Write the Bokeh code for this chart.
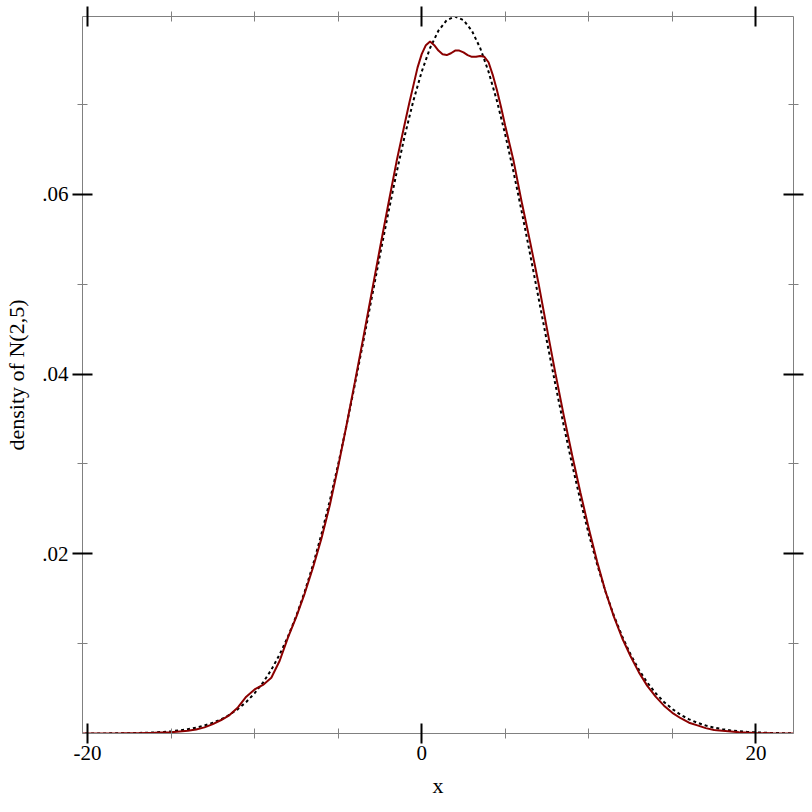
from bokeh.plotting import figure
from bokeh.models import LinearAxis, FixedTicker, Range1d
from bokeh.embed import file_html
from bokeh.resources import INLINE

# Reference density N(2,5) (dashed)
normal_x = [-20.5, -20, -19.5, -19, -18.5, -18, -17.5, -17, -16.5, -16, -15.5, -15,
            -14.5, -14, -13.5, -13, -12.5, -12, -11.5, -11, -10.5, -10, -9.5, -9,
            -8.5, -8, -7.5, -7, -6.5, -6, -5.5, -5, -4.5, -4, -3.5, -3, -2.5, -2,
            -1.5, -1, -0.5, 0, 0.5, 1, 1.5, 2, 2.5, 3, 3.5, 4, 4.5, 5, 5.5, 6,
            6.5, 7, 7.5, 8, 8.5, 9, 9.5, 10, 10.5, 11, 11.5, 12, 12.5, 13, 13.5, 14,
            14.5, 15, 15.5, 16, 16.5, 17, 17.5, 18, 18.5, 19, 19.5, 20, 20.5, 21,
            21.5, 22, 22.5]
normal_y = [0.0000032, 0.0000050, 0.0000077, 0.0000118, 0.0000179, 0.0000267, 0.0000397,
            0.0000583, 0.0000850, 0.000122, 0.000175, 0.000247, 0.000344, 0.000477,
            0.000653, 0.000887, 0.00119, 0.00158, 0.00208, 0.00272, 0.00351, 0.00448,
            0.00567, 0.00709, 0.00880, 0.01080, 0.01312, 0.01579, 0.01881, 0.02218,
            0.02590, 0.02995, 0.03427, 0.03884, 0.04357, 0.04839, 0.05322, 0.05794,
            0.06245, 0.06664, 0.07041, 0.07365, 0.07628, 0.07821, 0.07939, 0.07979,
            0.07939, 0.07821, 0.07628, 0.07365, 0.07041, 0.06664, 0.06245, 0.05794,
            0.05322, 0.04839, 0.04357, 0.03884, 0.03427, 0.02995, 0.02590, 0.02218,
            0.01881, 0.01579, 0.01312, 0.01080, 0.00880, 0.00709, 0.00567, 0.00448,
            0.00351, 0.00272, 0.00208, 0.00158, 0.00119, 0.000887, 0.000653, 0.000477,
            0.000344, 0.000247, 0.000175, 0.000122, 0.000085, 0.000058, 0.000040,
            0.000027, 0.000018]

# Kernel density estimate (red)
kde_x = [-20.5, -19, -18, -17, -16, -15, -14, -13.5, -13, -12.5, -12, -11.5, -11,
         -10.5, -10, -9.5, -9, -8.5, -8, -7.5, -7, -6.5, -6, -5.5, -5, -4.5, -4,
         -3.5, -3, -2.5, -2, -1.5, -1, -0.75, -0.5, -0.25, 0, 0.25, 0.5, 0.75, 1,
         1.25, 1.5, 1.75, 2, 2.25, 2.5, 2.75, 3, 3.25, 3.5, 3.75, 4, 4.25, 4.5,
         4.75, 5, 5.5, 6, 6.5, 7, 7.5, 8, 8.5, 9, 9.5, 10, 10.5, 11, 11.5, 12,
         12.5, 13, 13.5, 14, 14.5, 15, 15.5, 16, 16.5, 17, 17.5, 18, 19, 20, 21, 22.5]
kde_y = [0.0, 0.00001, 0.00002, 0.00004, 0.00007, 0.00014, 0.00030, 0.00045, 0.00068,
         0.00105, 0.00150, 0.00205, 0.00290, 0.00410, 0.00490, 0.00540, 0.00620,
         0.00810, 0.01070, 0.01300, 0.01560, 0.01850, 0.02170, 0.02540, 0.02970,
         0.03430, 0.03910, 0.04400, 0.04900, 0.05400, 0.05890, 0.06370, 0.06800,
         0.07010, 0.07210, 0.07410, 0.07560, 0.07660, 0.07700, 0.07660, 0.07600,
         0.07560, 0.07550, 0.07570, 0.07600, 0.07600, 0.07580, 0.07550, 0.07530,
         0.07530, 0.07540, 0.07530, 0.07470, 0.07330, 0.07160, 0.06970, 0.06760,
         0.06370, 0.05900, 0.05460, 0.05000, 0.04500, 0.04010, 0.03540, 0.03100,
         0.02680, 0.02280, 0.01910, 0.01580, 0.01300, 0.01060, 0.00860, 0.00680,
         0.00530, 0.00410, 0.00310, 0.00230, 0.00170, 0.00120, 0.00090, 0.00060,
         0.00040, 0.00030, 0.00015, 0.00006, 0.00002, 0.00001]

x_major = [-20, 0, 20]
x_minor = [-15, -10, -5, 5, 10, 15]
x_labels = {-20: "-20", 0: "0", 20: "20"}
y_major = [0.02, 0.04, 0.06]
y_minor = [0.01, 0.03, 0.05, 0.07]
y_labels = {0.02: ".02", 0.04: ".04", 0.06: ".06"}

X_LO, X_HI = -20.3, 22.25
Y_LO, Y_HI = 0.0, 0.07979

FONT = "Liberation Serif"
FRAME = "#808080"

p = figure(width=804, height=804, output_backend="svg", toolbar_location=None,
           x_range=Range1d(X_LO, X_HI), y_range=Range1d(Y_LO, Y_HI),
           x_axis_location=None, y_axis_location=None,
           min_border_left=82, min_border_right=11, min_border_top=16,
           min_border_bottom=71)
p.grid.visible = False
p.outline_line_color = None
p.background_fill_color = "white"
p.border_fill_color = "white"


def style(ax, ticks, minor, labels=True):
    ax.ticker = FixedTicker(ticks=ticks, minor_ticks=minor)
    ax.axis_line_color = FRAME
    ax.axis_line_width = 1
    ax.major_tick_line_color = "black"
    ax.major_tick_line_width = 2
    ax.major_tick_in = 10
    ax.major_tick_out = 10
    ax.minor_tick_line_color = FRAME
    ax.minor_tick_line_width = 1
    ax.minor_tick_in = 5
    ax.minor_tick_out = 5
    ax.major_label_text_font = FONT
    ax.major_label_text_font_size = "21px"
    ax.major_label_text_color = "black"
    ax.axis_label_text_font = FONT
    ax.axis_label_text_font_size = "22px"
    ax.axis_label_text_font_style = "normal"
    ax.axis_label_text_color = "black"
    if not labels:
        ax.major_label_text_font_size = "0px"
        ax.major_label_standoff = 0
        ax.major_label_overrides = {t: "" for t in ticks}


bottom = LinearAxis(axis_label="x")
style(bottom, x_major, x_minor)
bottom.major_label_overrides = x_labels
bottom.major_label_standoff = 2
bottom.axis_label_standoff = 10
p.add_layout(bottom, "below")

left = LinearAxis(axis_label="density of N(2,5)")
style(left, y_major, y_minor)
left.major_label_overrides = y_labels
left.major_label_standoff = 4
left.axis_label_standoff = 10
p.add_layout(left, "left")

top = LinearAxis()
style(top, x_major, x_minor, labels=False)
p.add_layout(top, "above")

right = LinearAxis()
style(right, y_major, y_minor, labels=False)
p.add_layout(right, "right")

p.line(normal_x, normal_y, line_color="black", line_width=2, line_dash="3 3")
p.line(kde_x, kde_y, line_color="#8b0000", line_width=2)

open("out.html", "w").write(file_html(p, INLINE))
